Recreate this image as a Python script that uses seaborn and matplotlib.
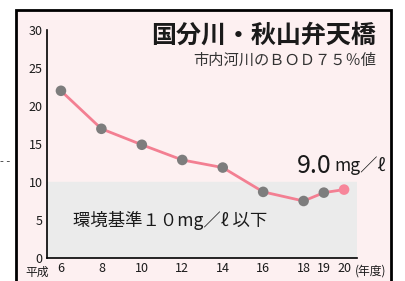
import matplotlib
matplotlib.use('Agg')
import matplotlib.pyplot as plt
import seaborn as sns
import pandas as pd
from matplotlib.patches import Rectangle

# data (平成 year, BOD 75% value mg/l)
years = [6, 8, 10, 12, 14, 16, 18, 19, 20]
bod = [22.0, 17.0, 14.9, 12.9, 11.9, 8.7, 7.5, 8.6, 9.0]
tick_years = [6, 8, 10, 12, 14, 16, 18, 19, 20]
tick_labels = ['6', '8', '10', '12', '14', '16', '18', '19', '20']
standard = 10

df = pd.DataFrame({'year': years, 'bod': bod})

sns.set_style('white')
plt.rcParams['font.family'] = ['Noto Sans CJK JP', 'DejaVu Sans']

fig = plt.figure(figsize=(4.05, 2.81), dpi=100)
fig.patch.set_facecolor('white')

# pink panel with black border
W, H = 405, 281
frame = Rectangle((16 / W, -0.1), (391 - 16) / W, 1.1 - 10 / H,
                  transform=fig.transFigure, facecolor='#fdf0f1',
                  edgecolor='black', linewidth=2, zorder=-5)
fig.patches.append(frame)

ax = fig.add_axes([47 / W, 1 - 258 / H, (357 - 47) / W, (258 - 30) / H])
ax.set_facecolor('none')
ax.set_zorder(2)

ax.axhspan(0, standard, color='#ebebeb', zorder=0)

sns.lineplot(data=df, x='year', y='bod', color='#f37f92', linewidth=2,
             ax=ax, zorder=2)
sns.scatterplot(data=df.iloc[:-1], x='year', y='bod', color='#7d7d7d', s=58,
                edgecolor='none', ax=ax, zorder=3)
sns.scatterplot(data=df.iloc[-1:], x='year', y='bod', color='#f7869a', s=58,
                edgecolor='none', ax=ax, zorder=3)

ax.set_xlim(5.31, 20.64)
ax.set_ylim(0, 30)
ax.set_yticks([0, 5, 10, 15, 20, 25, 30])
ax.set_xticks(range(6, 21), minor=True)
ax.set_xticks(tick_years)
ax.set_xticklabels(tick_labels)
ax.tick_params(axis='both', which='both', direction='in', length=5, width=1,
               color='black', labelsize=9, pad=3, labelcolor='#1a1a1a')
ax.set_xlabel('')
ax.set_ylabel('')
for s in ['top', 'right']:
    ax.spines[s].set_visible(False)
for s in ['left', 'bottom']:
    ax.spines[s].set_color('black')
    ax.spines[s].set_linewidth(1.2)

fig.text(25 / W, 1 - 272 / H, '平成', ha='left', va='center', fontsize=8.5,
         color='#1a1a1a')
fig.text(355 / W, 1 - 271 / H, '(年度)', ha='left', va='center', fontsize=8.5,
         color='#1a1a1a')

fig.text(376 / W, 1 - 36 / H, '国分川・秋山弁天橋', ha='right', va='center',
         fontsize=18, fontweight='bold', color='#1a1a1a')
fig.text(376 / W, 1 - 60 / H, '市内河川のＢＯＤ７５％値', ha='right', va='center',
         fontsize=11, color='#333333')
fig.text(332 / W, 1 - 166 / H, '9.0', ha='right', va='center',
         fontsize=18, color='#1a1a1a')
fig.text(334 / W, 1 - 166 / H, 'mg／ℓ', ha='left', va='center',
         fontsize=12.5, color='#1a1a1a')
fig.text(73 / W, 1 - 220 / H, '環境基準１０mg／ℓ 以下', ha='left', va='center',
         fontsize=12.5, color='#1a1a1a')
fig.text(0, 1 - 162 / H, '- -', ha='left', va='center', fontsize=8,
         color='#333333')

fig.savefig('out.png', dpi=100)
